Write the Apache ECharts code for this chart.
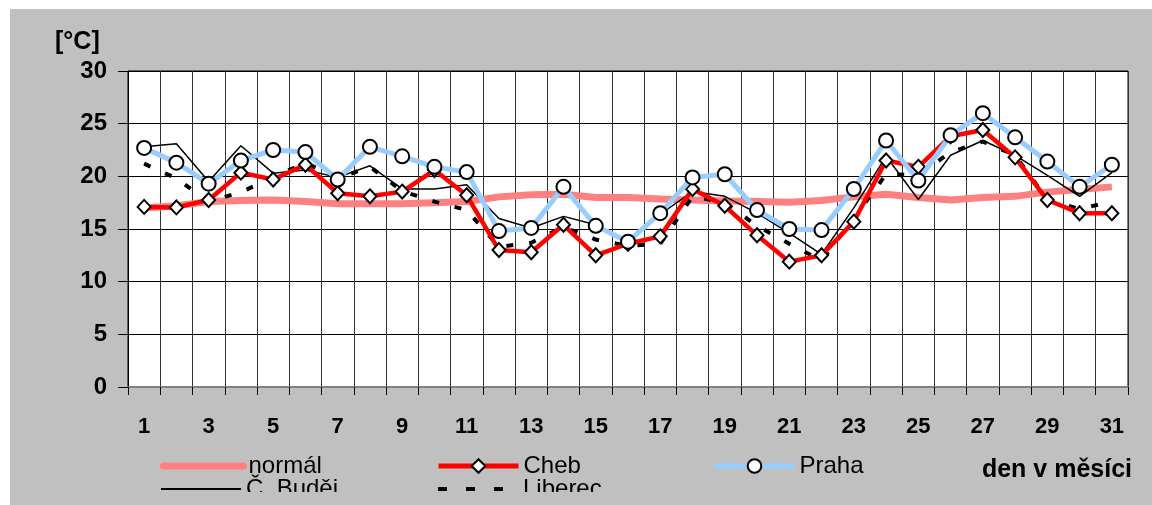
<!DOCTYPE html>
<html><head><meta charset="utf-8">
<script src="https://cdn.jsdelivr.net/npm/echarts@6/dist/echarts.min.js"></script>
<style>html,body{margin:0;padding:0;background:#fff}#c{width:1152px;height:505px}</style>
</head><body><div id="c"></div>
<script>
const days = ['1','2','3','4','5','6','7','8','9','10','11','12','13','14','15','16','17','18','19','20','21','22','23','24','25','26','27','28','29','30','31'];
const normal = [17.0,17.2,17.6,17.7,17.75,17.6,17.4,17.4,17.4,17.5,17.6,18.05,18.25,18.3,18.0,18.0,17.85,17.75,17.65,17.6,17.55,17.7,18.05,18.3,18.0,17.75,18.0,18.1,18.5,18.75,19.0];
const cheb = [17.1,17.05,17.75,20.35,19.7,21.1,18.4,18.1,18.55,20.6,18.2,13.0,12.8,15.4,12.5,13.6,14.3,18.8,17.2,14.4,11.9,12.5,15.7,21.5,20.9,23.8,24.4,21.8,17.75,16.5,16.5];
const praha = [22.7,21.3,19.3,21.5,22.5,22.3,19.7,22.8,21.9,20.9,20.4,14.8,15.1,19.0,15.3,13.8,16.5,19.9,20.2,16.8,15.0,14.9,18.8,23.4,19.6,23.9,26.0,23.7,21.4,19.0,21.1];
const budejovice = [22.8,23.1,19.5,22.9,20.3,20.6,19.9,21.0,18.8,18.8,19.2,16.0,15.1,16.2,15.4,13.8,16.4,18.55,18.1,16.5,14.6,12.6,17.0,21.9,17.8,22.0,23.4,22.0,20.1,18.1,20.35];
const liberec = [21.2,19.8,17.6,18.5,19.9,21.3,19.8,20.9,18.6,17.6,16.8,13.3,13.7,15.2,14.0,13.4,13.6,18.1,17.5,15.3,13.6,12.0,16.0,20.2,20.1,22.3,23.3,22.0,17.8,16.9,17.6];
const yMin = 0, yMax = 30, yStep = 5;

const FONT = '"Liberation Sans", Arial, sans-serif';
const chart = echarts.init(document.getElementById('c'), null, {renderer:'canvas'});
const legendText = {fontFamily: FONT, fontSize: 24, color: '#000'};
function lg(item, left, top) {
  return {data:[item], left:left, top:top, itemWidth:80, itemHeight:17, padding:0, itemGap:0,
    textStyle: legendText, selectedMode:false};
}
const hidden = {opacity:0};
const option = {
  backgroundColor: '#fff',
  animation: false,
  graphic: [
    {type:'rect', shape:{x:10,y:9,width:1142,height:496}, style:{fill:'#C0C0C0'}, z:-10, silent:true},
    {type:'rect', shape:{x:10,y:492,width:1142,height:13}, style:{fill:'#C0C0C0'}, z:100, silent:true}
  ],
  title: [
    {text:'[°C]', left:55, top:30, padding:0, textStyle:{fontFamily:FONT, fontSize:25, fontWeight:'bold', color:'#000'}},
    {text:'den v měsíci', right:20, top:458, padding:0, textStyle:{fontFamily:FONT, fontSize:25, fontWeight:'bold', color:'#000'}}
  ],
  grid: {left:128, top:71, width:1000, height:316, show:true, backgroundColor:'#fff', borderColor:'#000', borderWidth:1},
  xAxis: {
    type:'category', data: days, boundaryGap:true,
    axisLine:{show:true, lineStyle:{color:'#808080', width:2}},
    axisTick:{show:true, interval:0, length:8, lineStyle:{color:'#000'}},
    axisLabel:{interval:1, margin:29, fontFamily:FONT, fontSize:22, fontWeight:'bold', color:'#000'},
    splitLine:{show:true, interval:0, lineStyle:{color:'#333', width:1}}
  },
  yAxis: {
    type:'value', min:yMin, max:yMax, interval:yStep,
    axisLine:{show:true, lineStyle:{color:'#000', width:1}},
    axisTick:{show:true, length:10, lineStyle:{color:'#000'}},
    axisLabel:{margin:21, fontFamily:FONT, fontSize:24, fontWeight:'bold', color:'#000'},
    splitLine:{show:true, lineStyle:{color:'#000', width:1}}
  },
  legend: [
    lg({name:'normál', itemStyle:hidden, lineStyle:{width:7, color:'#FF8080', cap:'round'}}, 160, 454),
    lg({name:'Cheb', itemStyle:{color:'#fff', borderColor:'#000', borderWidth:2}, lineStyle:{width:5, color:'#FF0000'}}, 436, 454),
    lg({name:'Praha', itemStyle:{color:'#fff', borderColor:'#000', borderWidth:2}, lineStyle:{width:5, color:'#99CCFF'}}, 712, 454),
    lg({name:'Č. Buděj', itemStyle:hidden, lineStyle:{width:2, color:'#000'}}, 160, 477),
    lg({name:'Liberec', itemStyle:hidden, lineStyle:{width:4, color:'#000', type:[9,19]}}, 436, 477)
  ],
  series: [
    {name:'normál', type:'line', data: normal, symbol:'none', lineStyle:{color:'#FF8080', width:7}, itemStyle:{color:'#FF8080'}, z:1},
    {name:'Č. Buděj', type:'line', data: budejovice, symbol:'none', lineStyle:{color:'#000', width:1.5}, itemStyle:{color:'#000'}, z:2},
    {name:'Liberec', type:'line', data: liberec, symbol:'none', lineStyle:{color:'#000', width:4, type:[7,16]}, itemStyle:{color:'#000'}, z:2},
    {name:'Cheb', type:'line', data: cheb, symbol:'diamond', symbolSize:[13,14], showAllSymbol:true,
      lineStyle:{color:'#FF0000', width:4.5}, itemStyle:{color:'#fff', borderColor:'#000', borderWidth:2}, z:3},
    {name:'Praha', type:'line', data: praha, symbol:'circle', symbolSize:14, showAllSymbol:true,
      lineStyle:{color:'#99CCFF', width:5}, itemStyle:{color:'#fff', borderColor:'#000', borderWidth:2}, z:4}
  ]
};
chart.setOption(option);
</script></body></html>
